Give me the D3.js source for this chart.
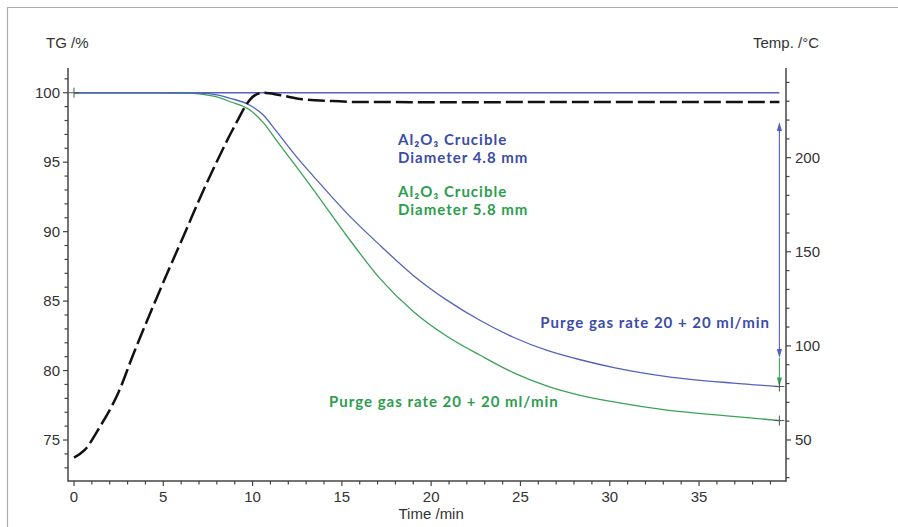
<!DOCTYPE html>
<html>
<head>
<meta charset="utf-8">
<script src="https://cdn.jsdelivr.net/npm/d3@7"></script>
<style>
  body { margin: 0; background: #fff; }
  svg { display: block; }
</style>
</head>
<body>
<div id="chart"></div>
<script>
// TG curves (time in min, mass in %)
const timeBlue = [0, 5, 7, 8, 8.75, 9.85, 10.6, 11.35, 12.45, 13.4, 15.3, 17.15, 19.0, 20.9, 22.75, 24.6, 26.5, 28.4, 30.3, 33.2, 36.9, 39.5];
const tgBlue   = [100, 100, 99.97, 99.85, 99.6, 99.1, 98.4, 97.2, 95.4, 94.0, 91.3, 89.0, 86.85, 85.05, 83.6, 82.4, 81.45, 80.76, 80.2, 79.57, 79.1, 78.85];

const timeGreen = [0, 5, 6.3, 7, 8, 8.75, 9.85, 10.6, 11.35, 13.3, 15.3, 17.15, 19.0, 20.9, 22.75, 24.6, 26.5, 28.4, 30.3, 33.2, 36.9, 39.5];
const tgGreen   = [100, 100, 99.98, 99.92, 99.7, 99.35, 98.75, 97.85, 96.55, 93.2, 89.65, 86.6, 84.25, 82.45, 81.1, 79.85, 78.88, 78.2, 77.72, 77.15, 76.7, 76.4];

// temperature program (dashed, right axis, °C)
const timeTemp = [0, 0.6, 1.45, 2.5, 3.3, 4.45, 5.4, 6.3, 7.05, 7.9, 8.7, 9.2, 9.6, 10.1, 10.6, 11.5, 12.8, 14.5, 15.8, 21, 30, 39.5];
const tempVals = [40.6, 44.7, 57, 75.5, 95, 121.5, 142.5, 162, 178.5, 196, 211.5, 220.5, 227.5, 233, 234.5, 233.3, 231, 230.1, 229.6, 229.5, 229.6, 229.6];

// tick labels
const xTicks = [0, 5, 10, 15, 20, 25, 30, 35];
const yTicks = [75, 80, 85, 90, 95, 100];
const tempTicks = [50, 100, 150, 200];

// mass-loss arrow at end of run (TG units)
const arrowTime = 39.5;
const arrowBlue = [97.9, 80.9];
const arrowGreen = [80.9, 78.85];

const W = 898, H = 527;
const plotL = 68, plotR = 786, plotT = 68, plotB = 481;

const svg = d3.select("#chart")
  .append("svg")
    .attr("width", W)
    .attr("height", H);

const blueLine = "#5462bd", greenLine = "#3aa356";
const blueText = "#3c4ca8", greenText = "#2b9e4c";
const axisCol = "#444";

// frame
svg.append("line").attr("x1", 7).attr("x2", W).attr("y1", 7.5).attr("y2", 7.5)
  .attr("stroke", "#aaa").attr("stroke-width", 1.2);
svg.append("line").attr("x1", 7.5).attr("x2", 7.5).attr("y1", 7).attr("y2", H)
  .attr("stroke", "#aaa").attr("stroke-width", 1.2);

// scales
const x = d3.scaleLinear().domain([-0.336, 39.87]).range([plotL, plotR]);
const y = d3.scaleLinear().domain([72.05, 101.78]).range([plotB, plotT]);
const yT = d3.scaleLinear().domain([28.2, 247.66]).range([plotB, plotT]);

const font = "'Liberation Sans', Arial, sans-serif";

// X axis
const gx = svg.append("g").attr("transform", `translate(0,${plotB})`);
gx.append("line").attr("x1", plotL).attr("x2", plotR).attr("stroke", axisCol).attr("stroke-width", 1.5);
gx.selectAll(".minor").data(d3.range(0, 40)).enter().append("line")
    .attr("x1", d => x(d)).attr("x2", d => x(d)).attr("y1", 0).attr("y2", d => d % 5 === 0 ? 5 : 3.5)
    .attr("stroke", axisCol).attr("stroke-width", 1.2);
gx.selectAll(".lbl").data(xTicks).enter().append("text")
    .attr("x", d => x(d)).attr("y", 20.5)
    .attr("text-anchor", "middle")
    .style("font-family", font).style("font-size", "15px").style("fill", "#333")
    .text(d => d);
svg.append("text")
    .attr("x", x(20)).attr("y", 519)
    .attr("text-anchor", "middle")
    .style("font-family", font).style("font-size", "15px").style("fill", "#333")
    .text("Time /min");

// left Y axis
const gy = svg.append("g").attr("transform", `translate(${plotL},0)`);
gy.append("line").attr("y1", plotT).attr("y2", plotB + 0.7).attr("stroke", axisCol).attr("stroke-width", 1.5);
gy.selectAll(".minor").data(d3.range(73, 102)).enter().append("line")
    .attr("y1", d => y(d)).attr("y2", d => y(d)).attr("x1", 0).attr("x2", d => d % 5 === 0 ? -5 : -3.5)
    .attr("stroke", axisCol).attr("stroke-width", 1.2);
gy.selectAll(".lbl").data(yTicks).enter().append("text")
    .attr("x", -8).attr("y", d => y(d) + 5)
    .attr("text-anchor", "end")
    .style("font-family", font).style("font-size", "15px").style("fill", "#333")
    .text(d => d);
svg.append("text")
    .attr("x", 46).attr("y", 48)
    .style("font-family", font).style("font-size", "15px").style("fill", "#333")
    .text("TG /%");

// right Y axis (temperature)
const gr = svg.append("g").attr("transform", `translate(${plotR},0)`);
gr.append("line").attr("y1", plotT).attr("y2", plotB + 0.7).attr("stroke", axisCol).attr("stroke-width", 1.5);
gr.selectAll(".minor").data(d3.range(30, 250, 10)).enter().append("line")
    .attr("y1", d => yT(d)).attr("y2", d => yT(d)).attr("x1", 0).attr("x2", d => d % 50 === 0 ? 5 : 3.5)
    .attr("stroke", axisCol).attr("stroke-width", 1.2);
gr.selectAll(".lbl").data(tempTicks).enter().append("text")
    .attr("x", 9).attr("y", d => yT(d) + 5)
    .style("font-family", font).style("font-size", "15px").style("fill", "#333")
    .text(d => d);
svg.append("text")
    .attr("x", 753).attr("y", 48)
    .style("font-family", font).style("font-size", "15px").style("fill", "#333")
    .text("Temp. /°C");

// curves
const tgLine = d3.line().x(d => x(d[0])).y(d => y(d[1])).curve(d3.curveMonotoneX);
const tLine = d3.line().x(d => x(d[0])).y(d => yT(d[1])).curve(d3.curveMonotoneX);

// flat 100 % reference of the blue run
svg.append("path")
    .datum([[0, 100], [arrowTime, 100]])
    .attr("d", tgLine).attr("fill", "none").attr("stroke", blueLine).attr("stroke-width", 1.4);

svg.append("path")
    .datum(d3.zip(timeGreen, tgGreen))
    .attr("d", tgLine).attr("fill", "none").attr("stroke", greenLine).attr("stroke-width", 1.3);
svg.append("path")
    .datum(d3.zip(timeBlue, tgBlue))
    .attr("d", tgLine).attr("fill", "none").attr("stroke", blueLine).attr("stroke-width", 1.3);

svg.append("path")
    .datum(d3.zip(timeTemp, tempVals))
    .attr("d", tLine).attr("fill", "none").attr("stroke", "#111")
    .attr("stroke-width", 2.5).attr("stroke-dasharray", "17,5");

// arrows
function arrowHead(px, py, dir, col) {
  // dir: -1 up, 1 down
  svg.append("path")
    .attr("d", `M${px},${py} L${px - 2.6},${py - dir * 9} L${px + 2.6},${py - dir * 9} Z`)
    .attr("fill", col);
}
const ax = x(arrowTime);
svg.append("line").attr("x1", ax).attr("x2", ax)
    .attr("y1", y(arrowBlue[0]) + 4).attr("y2", y(arrowBlue[1]) - 4)
    .attr("stroke", blueLine).attr("stroke-width", 1.1);
arrowHead(ax, y(arrowBlue[0]), -1, blueLine);
arrowHead(ax, y(arrowBlue[1]), 1, blueLine);
svg.append("line").attr("x1", ax).attr("x2", ax)
    .attr("y1", y(arrowGreen[0])).attr("y2", y(arrowGreen[1]) - 4)
    .attr("stroke", greenLine).attr("stroke-width", 1.1);
arrowHead(ax, y(arrowGreen[1]), 1, greenLine);

// crosshair markers
const marks = [[0, 100], [timeBlue[timeBlue.length - 1], tgBlue[tgBlue.length - 1]],
               [timeGreen[timeGreen.length - 1], tgGreen[tgGreen.length - 1]]];
marks.forEach(m => {
  const cx = x(m[0]), cy = y(m[1]);
  svg.append("path").attr("d", `M${cx - 5},${cy} H${cx + 5} M${cx},${cy - 5} V${cy + 5}`)
    .attr("stroke", "#555").attr("stroke-width", 1);
});

// annotations
const annFont = "Lato, 'Open Sans', sans-serif";
function label(tx, ty, col, lines, anchor) {
  const t = svg.append("text").attr("x", tx).attr("y", ty)
    .attr("text-anchor", anchor || "start")
    .style("font-family", annFont).style("font-size", "15px").style("font-weight", 700)
    .style("letter-spacing", "1px").style("fill", col);
  lines.forEach((s, i) => t.append("tspan").attr("x", tx).attr("dy", i ? 18 : 0).text(s));
}
label(398, 145, blueText, ["Al₂O₃ Crucible", "Diameter 4.8 mm"]);
label(398, 197, greenText, ["Al₂O₃ Crucible", "Diameter 5.8 mm"]);
label(770, 328, blueText, ["Purge gas rate 20 + 20 ml/min"], "end");
label(329, 407, greenText, ["Purge gas rate 20 + 20 ml/min"]);
</script>
</body>
</html>
